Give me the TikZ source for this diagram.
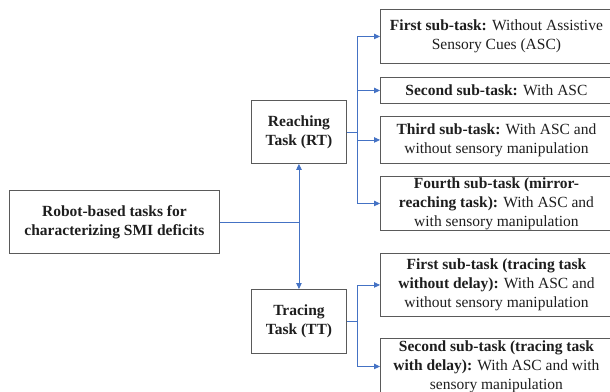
\documentclass[tikz,border=0pt]{standalone}
\usepackage{fontspec}
\setmainfont{Liberation Serif}
\usetikzlibrary{arrows.meta}
\definecolor{conn}{HTML}{4472C4}
\definecolor{boxline}{HTML}{5A5A5A}
\definecolor{txt}{HTML}{1E1E1E}
\begin{document}
\begin{tikzpicture}[x=1pt,y=-1pt,
  box/.style={draw=boxline,line width=0.9pt,fill=white,text=txt,align=center,
    inner sep=0pt,anchor=north west,font=\fontsize{15.5}{19}\selectfont},
  arr/.style={draw=conn,line width=0.9pt,-{Triangle[length=6pt,width=5.5pt]}},
  ln/.style={draw=conn,line width=0.9pt}]
\useasboundingbox (0,0) rectangle (610,391);
\clip (0,0) rectangle (610,391);
\node[box,minimum width=210pt,minimum height=63pt] (main) at (9,190)
  {\textbf{Robot-based tasks for}\\\textbf{characterizing SMI deficits}};
\node[box,minimum width=95pt,minimum height=63pt] (rt) at (251,100)
  {\textbf{Reaching}\\\textbf{Task (RT)}};
\node[box,minimum width=95pt,minimum height=64pt] (tt) at (251,289)
  {\textbf{Tracing}\\\textbf{Task (TT)}};
\node[box,minimum width=232pt,minimum height=54pt] (s1) at (380,9)
  {\textbf{First sub-task:} Without Assistive\\Sensory Cues (ASC)};
\node[box,minimum width=232pt,minimum height=26pt] (s2) at (380,77)
  {\textbf{Second sub-task:} With ASC};
\node[box,minimum width=232pt,minimum height=47pt] (s3) at (380,116)
  {\textbf{Third sub-task:} With ASC and\\without sensory manipulation};
\node[box,minimum width=232pt,minimum height=54pt] (s4) at (380,176)
  {\textbf{Fourth sub-task (mirror-}\\\textbf{reaching task):} With ASC and\\with sensory manipulation};
\node[box,minimum width=232pt,minimum height=63pt] (s5) at (380,253)
  {\textbf{First sub-task (tracing task}\\\textbf{without delay):} With ASC and\\without sensory manipulation};
\node[box,minimum width=232pt,minimum height=56pt] (s6) at (380,338)
  {\textbf{Second sub-task (tracing task}\\\textbf{with delay):} With ASC and with\\sensory manipulation};
\draw[arr] (main.east) -| (rt.south);
\draw[arr] (main.east) -| (tt.north);
\foreach \s in {s1,s2,s3,s4}
  \draw[arr] (rt.east) -- ++(11,0) |- (\s.west);
\foreach \s in {s5,s6}
  \draw[arr] (tt.east) -- ++(11,0) |- (\s.west);
\end{tikzpicture}
\end{document}
